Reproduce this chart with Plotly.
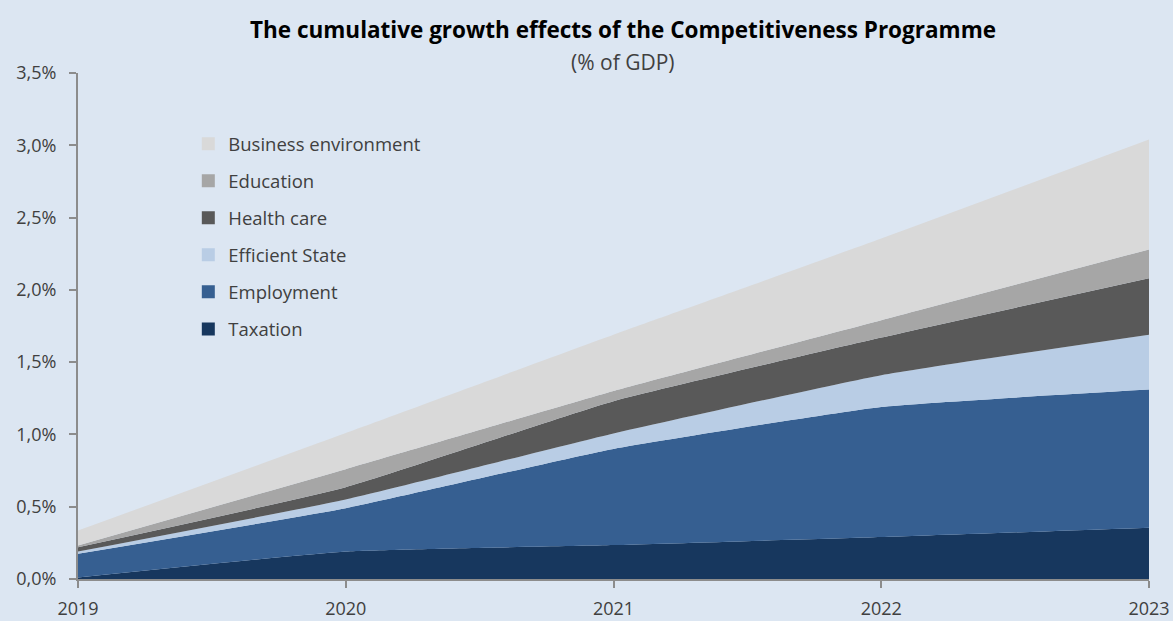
import plotly.graph_objects as go

# Years on the horizontal axis
years = [2019, 2020, 2021, 2022, 2023]

# Growth contribution of each measure (% of GDP), stacked bottom to top
taxation = [0.01, 0.19, 0.235, 0.29, 0.355]
employment = [0.165, 0.30, 0.665, 0.90, 0.955]
efficient_state = [0.015, 0.06, 0.107, 0.22, 0.38]
health_care = [0.03, 0.085, 0.223, 0.26, 0.39]
education = [0.012, 0.125, 0.07, 0.12, 0.20]
business_env = [0.103, 0.25, 0.39, 0.565, 0.76]

series_names = ["Taxation", "Employment", "Efficient State",
                "Health care", "Education", "Business environment"]
series_values = [taxation, employment, efficient_state,
                 health_care, education, business_env]
series_colors = ["#17375e", "#365f91", "#b9cde5",
                 "#595959", "#a6a6a6", "#d9d9d9"]

y_ticks = [0, 0.5, 1.0, 1.5, 2.0, 2.5, 3.0, 3.5]
y_tick_labels = [f"{v:.1f}%".replace(".", ",") for v in y_ticks]

BG = "#dce6f2"
AXIS = "#8c8c8c"
TEXT = "#404040"
FONT = "Open Sans"

fig = go.Figure()

# Stacked areas
for name, vals, col in zip(series_names, series_values, series_colors):
    fig.add_trace(go.Scatter(
        x=years, y=vals, name=name, stackgroup="growth",
        mode="lines", line=dict(width=0, color=col, shape="spline", smoothing=0.4),
        fillcolor=col, showlegend=False, hoverinfo="skip",
    ))

# Legend entries with square swatches, listed top layer first
for name, col in reversed(list(zip(series_names, series_colors))):
    fig.add_trace(go.Scatter(
        x=[None], y=[None], name=name, mode="markers",
        marker=dict(symbol="square", size=13, color=col),
        legendgroup=name, showlegend=True, hoverinfo="skip",
    ))

fig.update_layout(
    width=1173, height=621,
    paper_bgcolor=BG, plot_bgcolor=BG,
    margin=dict(l=78, r=24, t=73, b=42),
    font=dict(family=FONT, size=18, color=TEXT),
    title=dict(
        text="<b>The cumulative growth effects of the Competitiveness Programme</b>",
        x=623 / 1173, xanchor="center", xref="container",
        y=1 - 30 / 621, yanchor="middle", yref="container",
        font=dict(family=FONT, size=22.5, color="#000000"),
    ),
    annotations=[dict(
        text="(% of GDP)", x=(623 - 78) / 1071, xref="paper", xanchor="center",
        y=1.022, yref="paper", yanchor="middle", showarrow=False,
        font=dict(family=FONT, size=21, color=TEXT),
    )],
    legend=dict(
        x=0.103, xanchor="left", y=0.897, yanchor="top",
        traceorder="grouped", tracegroupgap=10,
        bgcolor="rgba(0,0,0,0)", font=dict(family=FONT, size=18.5, color=TEXT),
    ),
    showlegend=True,
)

fig.update_xaxes(
    range=[2019, 2023], tickvals=years, tickformat="d",
    showgrid=False, zeroline=False, automargin=False,
    showline=True, linecolor=AXIS, linewidth=2,
    ticks="outside", ticklen=7, tickwidth=2, tickcolor=AXIS,
    ticklabelstandoff=5,
    tickfont=dict(family=FONT, size=18, color=TEXT),
)
fig.update_yaxes(
    range=[0, 3.5], tickvals=y_ticks, ticktext=y_tick_labels,
    showgrid=False, zeroline=False, automargin=False,
    showline=True, linecolor=AXIS, linewidth=2,
    ticks="outside", ticklen=7, tickwidth=2, tickcolor=AXIS,
    ticklabelstandoff=9,
    tickfont=dict(family=FONT, size=18, color=TEXT),
)

fig.write_html("out.html")
